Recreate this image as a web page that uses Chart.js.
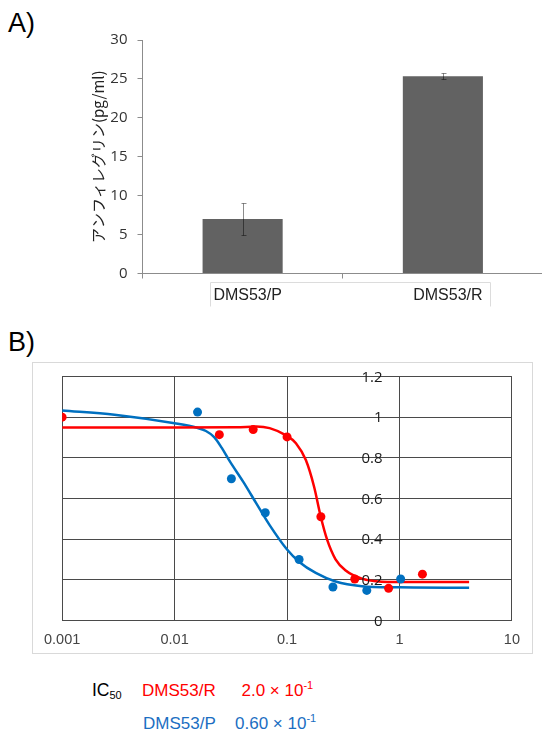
<!DOCTYPE html>
<html>
<head>
<meta charset="utf-8">
<script src="https://cdn.jsdelivr.net/npm/chart.js@4.4.1/dist/chart.umd.min.js"></script>
<style>
  html, body { margin: 0; padding: 0; width: 542px; height: 732px; overflow: hidden; background: #fff; }
  .lbl { position: absolute; font-family: "Liberation Sans", Arial, sans-serif; white-space: nowrap; line-height: 1; }
  .lbl sub { font-size: 11px; vertical-align: baseline; position: relative; top: 3px; }
  .lbl sup { font-size: 11px; vertical-align: baseline; position: relative; top: -7px; }
  #frameB { position: absolute; left: 32px; top: 362px; width: 501px; height: 292px; border: 1px solid #d9d9d9; box-sizing: border-box; }
  #wrapA { position: absolute; left: 0; top: 0; width: 543px; height: 320px; }
  #wrapB { position: absolute; left: 33px; top: 363px; width: 498px; height: 289px; }
</style>
</head>
<body>
<div class="lbl" style="left:8px; top:10px; font-size:27px;">A)</div>
<div class="lbl" style="left:8px; top:329px; font-size:27px;">B)</div>
<div id="frameB"></div>
<div id="wrapA"><canvas id="chartA" width="543" height="320"></canvas></div>
<div id="wrapB"><canvas id="chartB" width="498" height="289"></canvas></div>

<div class="lbl" style="left:92px; top:681.5px; font-size:17.5px; color:#000;">IC<sub>50</sub></div>
<div class="lbl" style="left:142px; top:681.5px; font-size:17px; color:#ff0000;">DMS53/R</div>
<div class="lbl" style="left:241.5px; top:681.5px; font-size:17px; color:#ff0000;">2.0 × 10<sup>-1</sup></div>
<div class="lbl" style="left:143px; top:715px; font-size:17px; color:#1b6ec2;">DMS53/P</div>
<div class="lbl" style="left:235px; top:715px; font-size:17px; color:#1b6ec2;">0.60 × 10<sup>-1</sup></div>

<script>
// ---- panel A data ----
const cellLines = ['DMS53/P', 'DMS53/R'];
const areg = [7.0, 25.35];
const aregErr = [2.05, 0.35];
const aTicks = [0, 5, 10, 15, 20, 25, 30];

// ---- panel B data ----
const redDose = [0.001, 0.025, 0.05, 0.1, 0.2, 0.4, 0.8, 1.6];
const redViab = [1.0, 0.914, 0.939, 0.903, 0.51, 0.204, 0.158, 0.228];
const blueDose = [0.016, 0.032, 0.064, 0.128, 0.256, 0.512, 1.024];
const blueViab = [1.025, 0.697, 0.53, 0.30, 0.165, 0.148, 0.204];

const redFitX = [0.001, 0.01, 0.0356, 0.0533, 0.070, 0.1, 0.12, 0.147, 0.174, 0.199, 0.228, 0.27, 0.33, 0.463, 0.695, 1.28, 4.16];
const redFitY = [0.949, 0.949, 0.950, 0.954, 0.946, 0.908, 0.872, 0.789, 0.658, 0.513, 0.395, 0.301, 0.247, 0.206, 0.191, 0.189, 0.189];
const blueFitX = [0.001, 0.00292, 0.01, 0.0158, 0.019, 0.0225, 0.0262, 0.0311, 0.0407, 0.0533, 0.070, 0.1, 0.1285, 0.18, 0.27, 0.463, 1.0, 4.16];
const blueFitY = [1.033, 1.012, 0.970, 0.948, 0.932, 0.902, 0.850, 0.781, 0.683, 0.576, 0.469, 0.349, 0.288, 0.234, 0.192, 0.169, 0.163, 0.161];

const doseTicks = [0.001, 0.01, 0.1, 1, 10];
const doseTickLabels = ['0.001', '0.01', '0.1', '1', '10'];
const viabTicks = [0, 0.2, 0.4, 0.6, 0.8, 1.0, 1.2];
const viabTickLabels = ['0', '0.2', '0.4', '0.6', '0.8', '1', '1.2'];

const RED = '#ff0000';
const BLUE = '#0070c0';

Chart.defaults.font.family = '"Liberation Sans", Arial, sans-serif';
Chart.defaults.animation = false;

const toXY = (xs, ys) => xs.map((x, i) => ({ x: x, y: ys[i] }));

// error bars on the bars of panel A
const errorBars = {
    id: 'errorBars',
    afterDatasetsDraw(chart) {
        const ctx = chart.ctx;
        const y = chart.scales.y;
        const meta = chart.getDatasetMeta(0);
        ctx.save();
        ctx.strokeStyle = 'rgba(0,0,0,0.45)';
        ctx.lineWidth = 1;
        meta.data.forEach((bar, i) => {
            const x = Math.round(bar.x) + 0.5;
            const top = Math.round(y.getPixelForValue(areg[i] + aregErr[i])) + 0.5;
            const bot = Math.round(y.getPixelForValue(areg[i] - aregErr[i])) + 0.5;
            ctx.beginPath();
            ctx.moveTo(x, top); ctx.lineTo(x, bot);
            ctx.moveTo(x - 2, top); ctx.lineTo(x + 3, top);
            ctx.moveTo(x - 2, bot); ctx.lineTo(x + 3, bot);
            ctx.stroke();
        });
        ctx.restore();
    }
};

// thin table-like box round the category labels
const labelBox = {
    id: 'labelBox',
    afterDraw(chart) {
        const ctx = chart.ctx;
        const x = chart.scales.x;
        const left = Math.round(x.getPixelForValue(0) - 33) + 0.5;
        const right = Math.round(x.getPixelForValue(1) + 47) + 0.5;
        const top = Math.round(chart.chartArea.bottom + 8) + 0.5;
        const bottom = top + 24;
        ctx.save();
        ctx.strokeStyle = '#dcdcdc';
        ctx.lineWidth = 1;
        ctx.beginPath();
        ctx.moveTo(left, bottom); ctx.lineTo(left, top); ctx.lineTo(right, top); ctx.lineTo(right, bottom);
        ctx.stroke();
        ctx.restore();
    }
};

new Chart(document.getElementById('chartA'), {
    type: 'bar',
    data: {
        labels: cellLines,
        datasets: [{
            data: areg,
            backgroundColor: '#626262',
            barPercentage: 0.4,
            categoryPercentage: 1.0
        }]
    },
    options: {
        responsive: false,
        layout: { padding: { left: 89.5, top: 40, right: 0, bottom: 0 } },
        plugins: { legend: { display: false }, tooltip: { enabled: false } },
        scales: {
            x: {
                grid: { offset: true, drawOnChartArea: false, tickLength: 5, color: '#8c8c8c' },
                border: { color: '#8c8c8c' },
                ticks: { font: { size: 16 }, color: '#222', padding: 7, labelOffset: 5, maxRotation: 0 },
                afterFit: s => { s.height = 46.5; }
            },
            y: {
                min: 0, max: 30,
                afterBuildTicks: s => { s.ticks = aTicks.map(v => ({ value: v })); },
                grid: { drawOnChartArea: false, tickLength: 5, color: '#8c8c8c' },
                border: { color: '#8c8c8c' },
                ticks: { font: { family: '"Open Sans", sans-serif', size: 15 }, color: '#333', padding: 10 },
                title: {
                    display: true,
                    text: 'アンフィレグリン(pg/ml)',
                    font: { family: '"Noto Sans CJK JP", sans-serif', size: 15 },
                    color: '#222',
                    padding: 0
                },
                afterFit: s => { s.width = 53; }
            }
        }
    },
    plugins: [errorBars, labelBox]
});

// y tick labels of panel B sit left of x = 1, as in the source
const crossLabels = {
    id: 'crossLabels',
    afterDatasetsDraw(chart) {
        const ctx = chart.ctx;
        const xs = chart.scales.x, ys = chart.scales.y;
        const ax = xs.getPixelForValue(1) - 17;
        ctx.save();
        ctx.font = '15px "Open Sans", sans-serif';
        ctx.fillStyle = '#1a1a1a';
        ctx.textAlign = 'right';
        ctx.textBaseline = 'middle';
        viabTicks.forEach((v, i) => {
            ctx.fillText(viabTickLabels[i], ax, ys.getPixelForValue(v) + 1);
        });
        ctx.restore();
    }
};

new Chart(document.getElementById('chartB'), {
    type: 'scatter',
    data: {
        datasets: [
            { data: toXY(redDose, redViab), backgroundColor: RED, borderColor: RED, pointRadius: 4.5, borderWidth: 0, order: 0 },
            { data: toXY(blueDose, blueViab), backgroundColor: BLUE, borderColor: BLUE, pointRadius: 4.5, borderWidth: 0, order: 0 },
            { data: toXY(redFitX, redFitY), showLine: true, borderColor: RED, borderWidth: 2.5, pointRadius: 0, cubicInterpolationMode: 'monotone', order: 1 },
            { data: toXY(blueFitX, blueFitY), showLine: true, borderColor: BLUE, borderWidth: 2.5, pointRadius: 0, cubicInterpolationMode: 'monotone', order: 2 }
        ]
    },
    options: {
        responsive: false,
        layout: { padding: { left: 27.5, top: 13.5, right: 15.5, bottom: 0 } },
        plugins: { legend: { display: false }, tooltip: { enabled: false } },
        scales: {
            x: {
                type: 'logarithmic',
                min: 0.001, max: 10,
                afterBuildTicks: s => { s.ticks = doseTicks.map(v => ({ value: v })); },
                grid: { color: '#4a4a4a', drawTicks: false },
                border: { color: '#4a4a4a' },
                ticks: {
                    autoSkip: false, maxRotation: 0,
                    font: { size: 14.5 }, color: '#444', padding: 11,
                    callback: v => doseTickLabels[doseTicks.indexOf(v)]
                },
                afterFit: s => { s.height = 31.5; }
            },
            y: {
                min: 0, max: 1.2,
                afterBuildTicks: s => { s.ticks = viabTicks.map(v => ({ value: v })); },
                grid: { color: '#4a4a4a', drawTicks: false },
                border: { color: '#4a4a4a' },
                ticks: { display: false },
                afterFit: s => { s.width = 0; }
            }
        }
    },
    plugins: [crossLabels]
});
</script>
</body>
</html>
